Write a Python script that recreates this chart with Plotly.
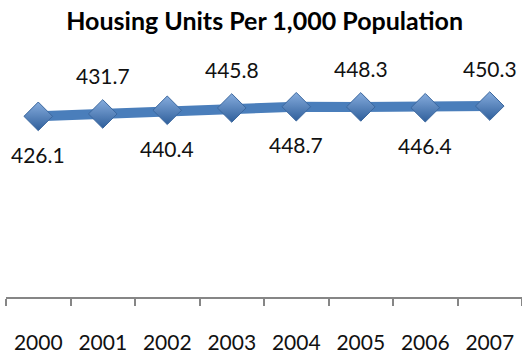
import plotly.graph_objects as go

years = ["2000", "2001", "2002", "2003", "2004", "2005", "2006", "2007"]
units = [426.1, 431.7, 440.4, 445.8, 448.7, 448.3, 446.4, 450.3]
# label placement alternates below / above the line
label_side = [-1, 1, -1, 1, -1, 1, -1, 1]

FONT = "Lato, 'Open Sans', sans-serif"

fig = go.Figure()
fig.add_trace(go.Scatter(
    x=years, y=units, mode="lines+markers",
    line=dict(color="#4A7EBB", width=10),
    marker=dict(symbol="diamond", size=22, color="#86ACDD",
                gradient=dict(type="vertical", color="#2F5F9B"),
                line=dict(color="#3A679F", width=1)),
    hoverinfo="x+y", showlegend=False,
))

# on a category axis, annotations are placed by category index
for i, (v, s) in enumerate(zip(units, label_side)):
    fig.add_annotation(x=i, y=v, text=f"{v:.1f}", showarrow=False,
                       yshift=38 * s, font=dict(family=FONT, size=21, color="#111"))

fig.update_layout(
    width=522, height=354,
    margin=dict(l=6, r=0, t=84.5, b=47.5),
    paper_bgcolor="white", plot_bgcolor="white",
    title=dict(text="<b>Housing Units Per 1,000 Population</b>",
               x=0.507, xanchor="center", y=0.94, yanchor="middle",
               font=dict(family=FONT, size=25, color="#000")),
    xaxis=dict(type="category", range=[-0.5, len(years) - 0.5], autorange=False,
               showline=True, linecolor="#868686", linewidth=1.5,
               ticks="outside", tickson="boundaries", ticklen=7, tickcolor="#868686",
               tickwidth=1.5, showgrid=False, zeroline=False, ticklabelstandoff=26,
               tickangle=0, tickfont=dict(family=FONT, size=21, color="#111")),
    yaxis=dict(range=[0, 500], visible=False, showgrid=False, zeroline=False),
)

fig.write_html("out.html")
